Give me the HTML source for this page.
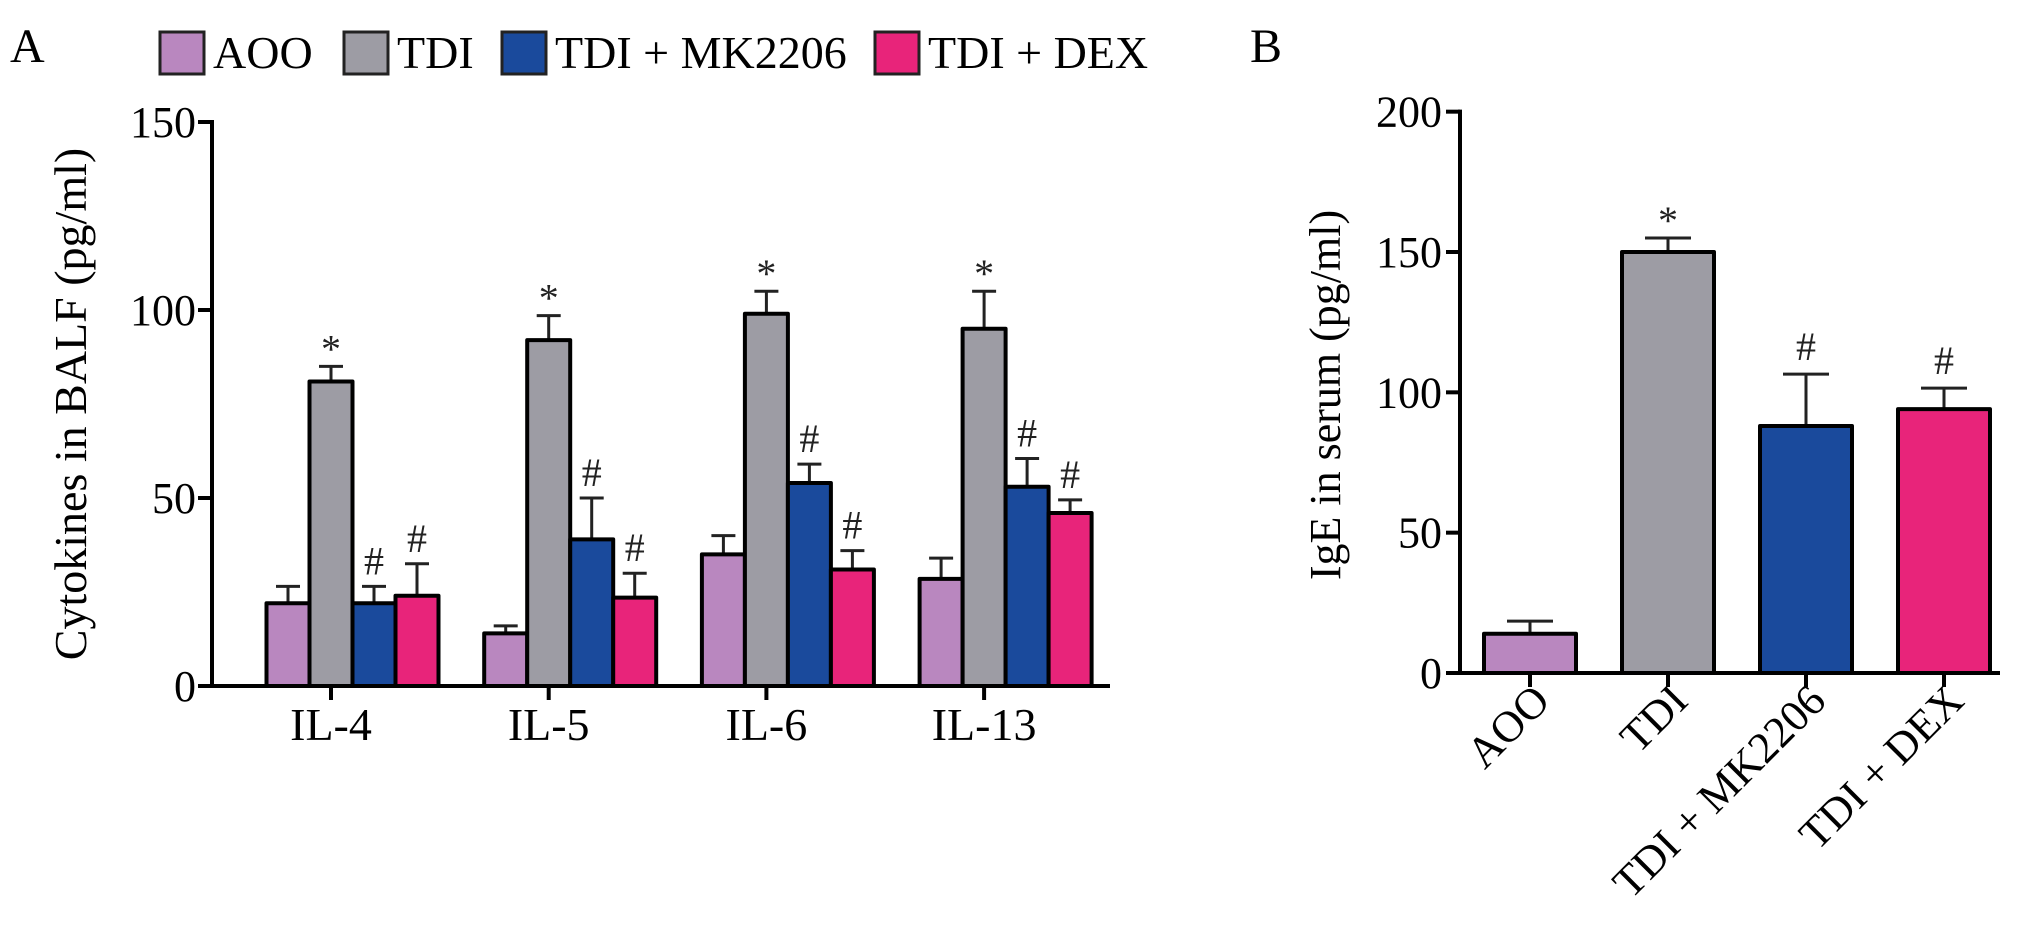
<!DOCTYPE html>
<html><head><meta charset="utf-8"><style>
html,body{margin:0;padding:0;background:#fff;}
svg{display:block;font-family:"Liberation Serif",serif;}
</style></head><body>
<svg id="fig" width="2031" height="941" viewBox="0 0 2031 941" xmlns="http://www.w3.org/2000/svg">
<text x="10" y="62" font-size="48">A</text>
<text x="1250" y="62" font-size="48">B</text>
<g id="legend"></g>
<g id="pa"></g>
<g id="pb"></g>
</svg>
<script>
const groups = ["AOO", "TDI", "TDI + MK2206", "TDI + DEX"];
const colors = ["#b987bf", "#9d9ca4", "#1a4a9c", "#e8247a"];
const cytokines = ["IL-4", "IL-5", "IL-6", "IL-13"];
const aooVals = [22, 14, 35, 28.5];
const aooErr = [26.5, 16, 40, 34];
const tdiVals = [81, 92, 99, 95];
const tdiErr = [85, 98.5, 105, 105];
const mkVals = [22, 39, 54, 53];
const mkErr = [26.5, 50, 59, 60.5];
const dexVals = [24, 23.5, 31, 46];
const dexErr = [32.5, 30, 36, 49.5];
const aTicks = [0, 50, 100, 150];
const igeVals = [14, 150, 88, 94];
const igeErr = [18.5, 155, 106.5, 101.5];
const bTicks = [0, 50, 100, 150, 200];
const aMarks = [["", "*", "#", "#"], ["", "*", "#", "#"], ["", "*", "#", "#"], ["", "*", "#", "#"]];
const bMarks = ["", "*", "#", "#"];

const NS = "http://www.w3.org/2000/svg";
function mk(tag, attrs, parent, txt) {
  const e = document.createElementNS(NS, tag);
  for (const k in attrs) e.setAttribute(k, attrs[k]);
  if (txt !== undefined) e.textContent = txt;
  parent.appendChild(e);
  return e;
}

// Legend
const lg = document.getElementById("legend");
const legX = [160, 344, 502, 875];
groups.forEach((g, i) => {
  const r = mk("rect", {x: legX[i], y: 32, width: 44, height: 42, fill: colors[i], stroke: "#222", "stroke-width": 3}, lg);
  
  
  const t = mk("text", {x: legX[i] + 53, y: 68, "font-size": 46}, lg, g);
  
  
});

// Panel A
const pa = document.getElementById("pa");
const aY0 = 686, aScale = (686 - 122) / 150;
const ya = v => aY0 - v * aScale;
const aAxisX = 212, aGroupX = 331, aGroupStep = 217.7, aBarW = 43;
const xa = (gi, si) => aGroupX + gi * aGroupStep + (si - 1.5) * aBarW;
const series = [aooVals, tdiVals, mkVals, dexVals];
const errs = [aooErr, tdiErr, mkErr, dexErr];
const ax = mk("line", {x1: aAxisX, y1: ya(150) - 2, x2: aAxisX, y2: aY0 + 2, stroke: "#000", "stroke-width": 4}, pa);


aTicks.forEach(v => {
  const tk = mk("line", {x1: aAxisX - 14, y1: ya(v), x2: aAxisX, y2: ya(v), stroke: "#000", "stroke-width": 4}, pa);
  
  
  const tl = mk("text", {x: aAxisX - 16, y: ya(v) + 15, "font-size": 44, "text-anchor": "end"}, pa, String(v));
  
  
});
const yt = mk("text", {x: 0, y: 0, "font-size": 46, "text-anchor": "middle", transform: "translate(86,404) rotate(-90)"}, pa, "Cytokines in BALF (pg/ml)");


cytokines.forEach((c, gi) => {
  series.forEach((s, si) => {
    const cx = xa(gi, si) + aBarW / 2;
    const el = mk("line", {x1: cx, y1: ya(errs[si][gi]), x2: cx, y2: ya(s[gi]), stroke: "#222", "stroke-width": 3}, pa);
    
    
    const cap = mk("line", {x1: cx - 12, y1: ya(errs[si][gi]), x2: cx + 12, y2: ya(errs[si][gi]), stroke: "#222", "stroke-width": 3}, pa);
    
    
    const b = mk("rect", {x: xa(gi, si), y: ya(s[gi]), width: aBarW, height: aY0 - ya(s[gi]), fill: colors[si], stroke: "#000", "stroke-width": 4, "stroke-linejoin": "round"}, pa);
    
    
    const m = aMarks[gi][si];
    if (m) {
      const mt = mk("text", {x: cx, y: ya(errs[si][gi]) - (m === "*" ? 4 : 12), "font-size": m === "*" ? 40 : 40, "text-anchor": "middle", fill: "#222"}, pa, m);
      
      
    }
  });
  const gx = aGroupX + gi * aGroupStep;
  const xt = mk("line", {x1: gx, y1: aY0, x2: gx, y2: aY0 + 14, stroke: "#000", "stroke-width": 4}, pa);
  
  
  const xl = mk("text", {x: gx, y: 740, "font-size": 46, "text-anchor": "middle"}, pa, c);
  
  
});
const xaxA = mk("line", {x1: aAxisX - 14, y1: aY0, x2: 1110, y2: aY0, stroke: "#000", "stroke-width": 4}, pa);



// Panel B
const pb = document.getElementById("pb");
const bY0 = 673, bScale = (673 - 252) / 150;
const yb = v => bY0 - v * bScale;
const bAxisX = 1460, bX0 = 1530, bStep = 138, bBarW = 92;
const bx = i => bX0 + i * bStep;
const axb = mk("line", {x1: bAxisX, y1: yb(200) - 2, x2: bAxisX, y2: bY0 + 2, stroke: "#000", "stroke-width": 4}, pb);


bTicks.forEach(v => {
  const tk = mk("line", {x1: bAxisX - 14, y1: yb(v), x2: bAxisX, y2: yb(v), stroke: "#000", "stroke-width": 4}, pb);
  
  
  const tl = mk("text", {x: bAxisX - 18, y: yb(v) + 15, "font-size": 44, "text-anchor": "end"}, pb, String(v));
  
  
});
const ytb = mk("text", {x: 0, y: 0, "font-size": 44, "text-anchor": "middle", transform: "translate(1340,395) rotate(-90)"}, pb, "IgE in serum (pg/ml)");


groups.forEach((g, i) => {
  const cx = bx(i);
  const el = mk("line", {x1: cx, y1: yb(igeErr[i]), x2: cx, y2: yb(igeVals[i]), stroke: "#222", "stroke-width": 3}, pb);
  
  
  const cap = mk("line", {x1: cx - 23, y1: yb(igeErr[i]), x2: cx + 23, y2: yb(igeErr[i]), stroke: "#222", "stroke-width": 3}, pb);
  
  
  const b = mk("rect", {x: cx - bBarW / 2, y: yb(igeVals[i]), width: bBarW, height: bY0 - yb(igeVals[i]), fill: colors[i], stroke: "#000", "stroke-width": 4, "stroke-linejoin": "round"}, pb);
  
  
  const m = bMarks[i];
  if (m) {
    const mt = mk("text", {x: cx, y: yb(igeErr[i]) - (m === "*" ? 4 : 14), "font-size": 40, "text-anchor": "middle", fill: "#222"}, pb, m);
    
    
  }
  const xt = mk("line", {x1: cx, y1: bY0, x2: cx, y2: bY0 + 14, stroke: "#000", "stroke-width": 4}, pb);
  
  
  const xl = mk("text", {x: 0, y: 0, "font-size": 44, "text-anchor": "end", transform: "translate(" + (cx + 22) + "," + (bY0 + 30) + ") rotate(-45)"}, pb, g);
  
  
});
const xaxB = mk("line", {x1: bAxisX - 2, y1: bY0, x2: 2000, y2: bY0, stroke: "#000", "stroke-width": 4}, pb);


</script>
</body></html>
